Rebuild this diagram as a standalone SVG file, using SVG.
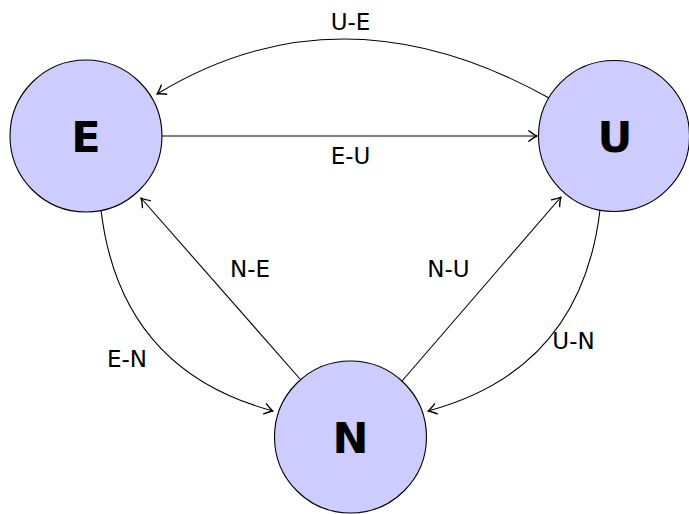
<svg xmlns="http://www.w3.org/2000/svg" width="689" height="514" viewBox="0 0 689 514">
  <style>
    .state { fill: #ccccff; stroke: #000; stroke-width: 1.1; }
    .state-label { font-family: "DejaVu Sans", "Liberation Sans", sans-serif; font-weight: bold; font-size: 43px; text-anchor: middle; fill: #000; }
    .edge { fill: none; stroke: #000; stroke-width: 1.1; marker-end: url(#arrow); }
    .edge-label { font-family: "DejaVu Sans", "Liberation Sans", sans-serif; font-size: 23px; text-anchor: middle; fill: #000; }
  </style>
  <defs>
    <marker id="arrow" markerUnits="userSpaceOnUse" markerWidth="14" markerHeight="14" viewBox="-8 -6 10 12" refX="0" refY="0" orient="auto" overflow="visible">
      <path d="M -7,-4.5 Q -2.5,-1 0,0 Q -2.5,1 -7,4.5" fill="none" stroke="#000" stroke-width="1.2" stroke-linecap="round" stroke-linejoin="round"/>
    </marker>
  </defs>

  <rect width="689" height="514" fill="#fff"/>

  <!-- transitions -->
  <g id="connectors">
    <path class="edge" d="M 549,98 Q 341,-18 157,94"/>
    <path class="edge" d="M 162,136 L 537,136"/>
    <path class="edge" d="M 101,210 Q 120,370 273,411"/>
    <path class="edge" d="M 600,210 Q 581,370 428,411"/>
    <path class="edge" d="M 300,379 L 141,198"/>
    <path class="edge" d="M 402,381 L 561,197"/>
    <text class="edge-label" x="350.5" y="30">U-E</text>
    <text class="edge-label" x="350.5" y="164">E-U</text>
    <text class="edge-label" x="250" y="277">N-E</text>
    <text class="edge-label" x="448.5" y="277">N-U</text>
    <text class="edge-label" x="127" y="367">E-N</text>
    <text class="edge-label" x="573.5" y="349">U-N</text>
  </g>

  <!-- states -->
  <g id="node-E">
    <circle class="state" cx="86" cy="136" r="76"/>
    <text class="state-label" x="86" y="152">E</text>
  </g>
  <g id="node-U">
    <circle class="state" cx="614" cy="136" r="75.5"/>
    <text class="state-label" x="615" y="152">U</text>
  </g>
  <g id="node-N">
    <circle class="state" cx="350.5" cy="437" r="76"/>
    <text class="state-label" x="350.5" y="453">N</text>
  </g>
</svg>
